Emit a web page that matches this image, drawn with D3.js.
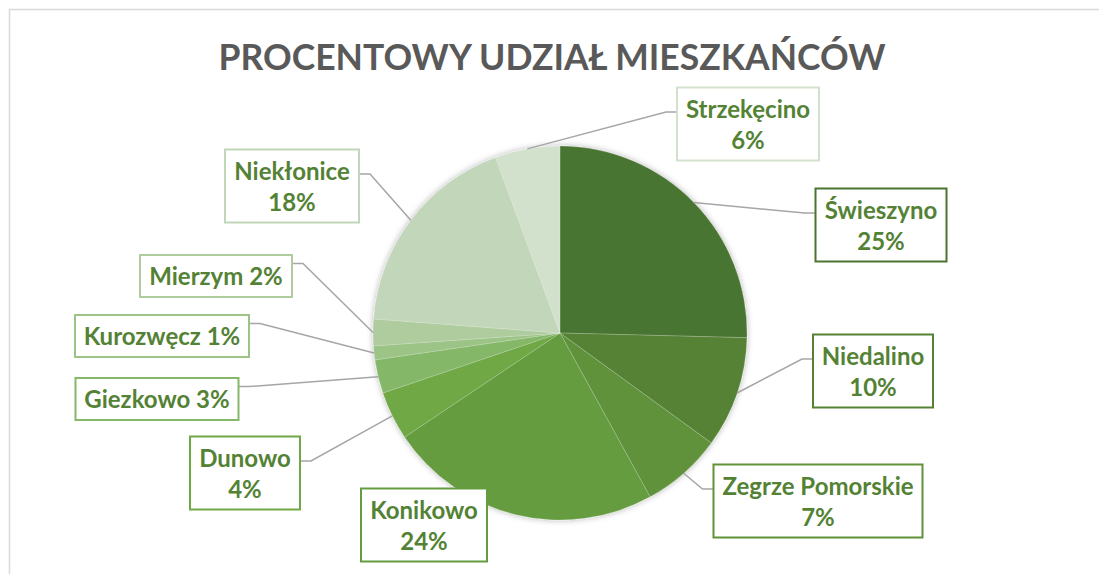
<!DOCTYPE html>
<html>
<head>
<meta charset="utf-8">
<style>
  body { margin: 0; background: #fff; }
  text { font-family: Lato, "Open Sans", sans-serif; font-weight: bold; }
</style>
</head>
<body>
<svg width="1099" height="574"></svg>
<script src="https://d3js.org/d3.v7.min.js"></script>
<script>
// dane
var names = ["Świeszyno", "Niedalino", "Zegrze Pomorskie", "Konikowo", "Dunowo",
             "Giezkowo", "Kurozwęcz", "Mierzym", "Niekłonice", "Strzekęcino"];
var shares = [25.4, 9.6, 7.0, 23.6, 4.2, 2.9, 1.2, 2.3, 18.2, 5.6];
var title = "PROCENTOWY UDZIAŁ MIESZKAŃCÓW";

// kolory plastrów
var colors = ["#4a7430", "#548235", "#5e923b", "#659c40", "#6fa845",
              "#84b767", "#9cc487", "#aecc9d", "#c2d6ba", "#d2e1cc"];

// położenie etykiet (środek ramki), liczba linii, czy rysować linię odniesienia
var labelLayout = [
  {x: 881, y: 225, lines: 2, leader: true},
  {x: 873, y: 371, lines: 2, leader: true},
  {x: 818, y: 501, lines: 2, leader: true},
  {x: 424, y: 525, lines: 2, leader: false},
  {x: 245, y: 473, lines: 2, leader: true},
  {x: 157, y: 399, lines: 1, leader: true},
  {x: 162, y: 336, lines: 1, leader: true},
  {x: 216, y: 276, lines: 1, leader: true},
  {x: 292, y: 186, lines: 2, leader: true},
  {x: 748, y: 124, lines: 2, leader: true}
];

var svg = d3.select("svg");
var cx = 560, cy = 333, r = 187;

// ramka wykresu
svg.append("rect")
  .attr("x", 9.5).attr("y", 9.5)
  .attr("width", 1200).attr("height", 700)
  .attr("fill", "#fff")
  .attr("stroke", "#d9d9d9")
  .attr("stroke-width", 1.5);

// cień
var defs = svg.append("defs");
var f = defs.append("filter").attr("id", "shadow")
  .attr("x", "-20%").attr("y", "-20%").attr("width", "140%").attr("height", "140%");
f.append("feDropShadow")
  .attr("dx", 0).attr("dy", 0)
  .attr("stdDeviation", 3)
  .attr("flood-color", "#000")
  .attr("flood-opacity", 0.3);

// tytuł
svg.append("text")
  .attr("x", 552).attr("y", 70)
  .attr("text-anchor", "middle")
  .attr("fill", "#595959")
  .attr("font-size", 37)
  .attr("textLength", 667)
  .attr("lengthAdjust", "spacingAndGlyphs")
  .text(title);

var total = d3.sum(shares);
var pie = d3.pie().sort(null).value(function(d) { return d; });
var arcs = pie(shares);

var arc = d3.arc().innerRadius(0).outerRadius(r);
var edge = d3.arc().innerRadius(r).outerRadius(r);

var chart = svg.append("g")
  .attr("transform", "translate(" + cx + "," + cy + ")");

chart.append("g")
  .attr("filter", "url(#shadow)")
  .selectAll("path")
  .data(arcs)
  .enter().append("path")
  .attr("d", arc)
  .attr("fill", function(d, i) { return colors[i]; })
  .attr("stroke", "#ffffff")
  .attr("stroke-opacity", 0.3)
  .attr("stroke-width", 0.6);

// etykiety
var labels = svg.append("g");
var line = d3.line();

arcs.forEach(function(d, i) {
  var L = labelLayout[i];
  var pct = Math.round(d.value / total * 100) + "%";
  var rows = L.lines === 2 ? [names[i], pct] : [names[i] + " " + pct];

  var g = labels.append("g");
  var rect = g.append("rect");
  var h = 11 + 31 * rows.length;
  var top = L.y - h / 2;

  var w = 0;
  rows.forEach(function(t, k) {
    var tx = g.append("text")
      .attr("x", L.x)
      .attr("y", top + 30 + 31 * k)
      .attr("text-anchor", "middle")
      .attr("fill", "#548235")
      .attr("font-size", 24)
      .text(t);
    w = Math.max(w, tx.node().getComputedTextLength());
  });
  w = Math.round(w + 18);
  var left = L.x - w / 2;

  rect.attr("x", left).attr("y", top)
    .attr("width", w).attr("height", h)
    .attr("fill", "#fff")
    .attr("stroke", colors[i])
    .attr("stroke-width", 2);

  if (L.leader) {
    var p = edge.centroid(d);
    var start = [p[0] + cx, p[1] + cy];
    var ay = top + (rows.length === 2 ? 24.5 : 8.5);
    var bx = L.x > cx ? left : left + w;
    var ex = L.x > cx ? bx - 11 : bx + 11;
    labels.insert("path", ":first-child")
      .attr("d", line([start, [ex, ay], [bx, ay]]))
      .attr("fill", "none")
      .attr("stroke", "#a6a6a6")
      .attr("stroke-width", 1.5);
  }
});
</script>
</body>
</html>
